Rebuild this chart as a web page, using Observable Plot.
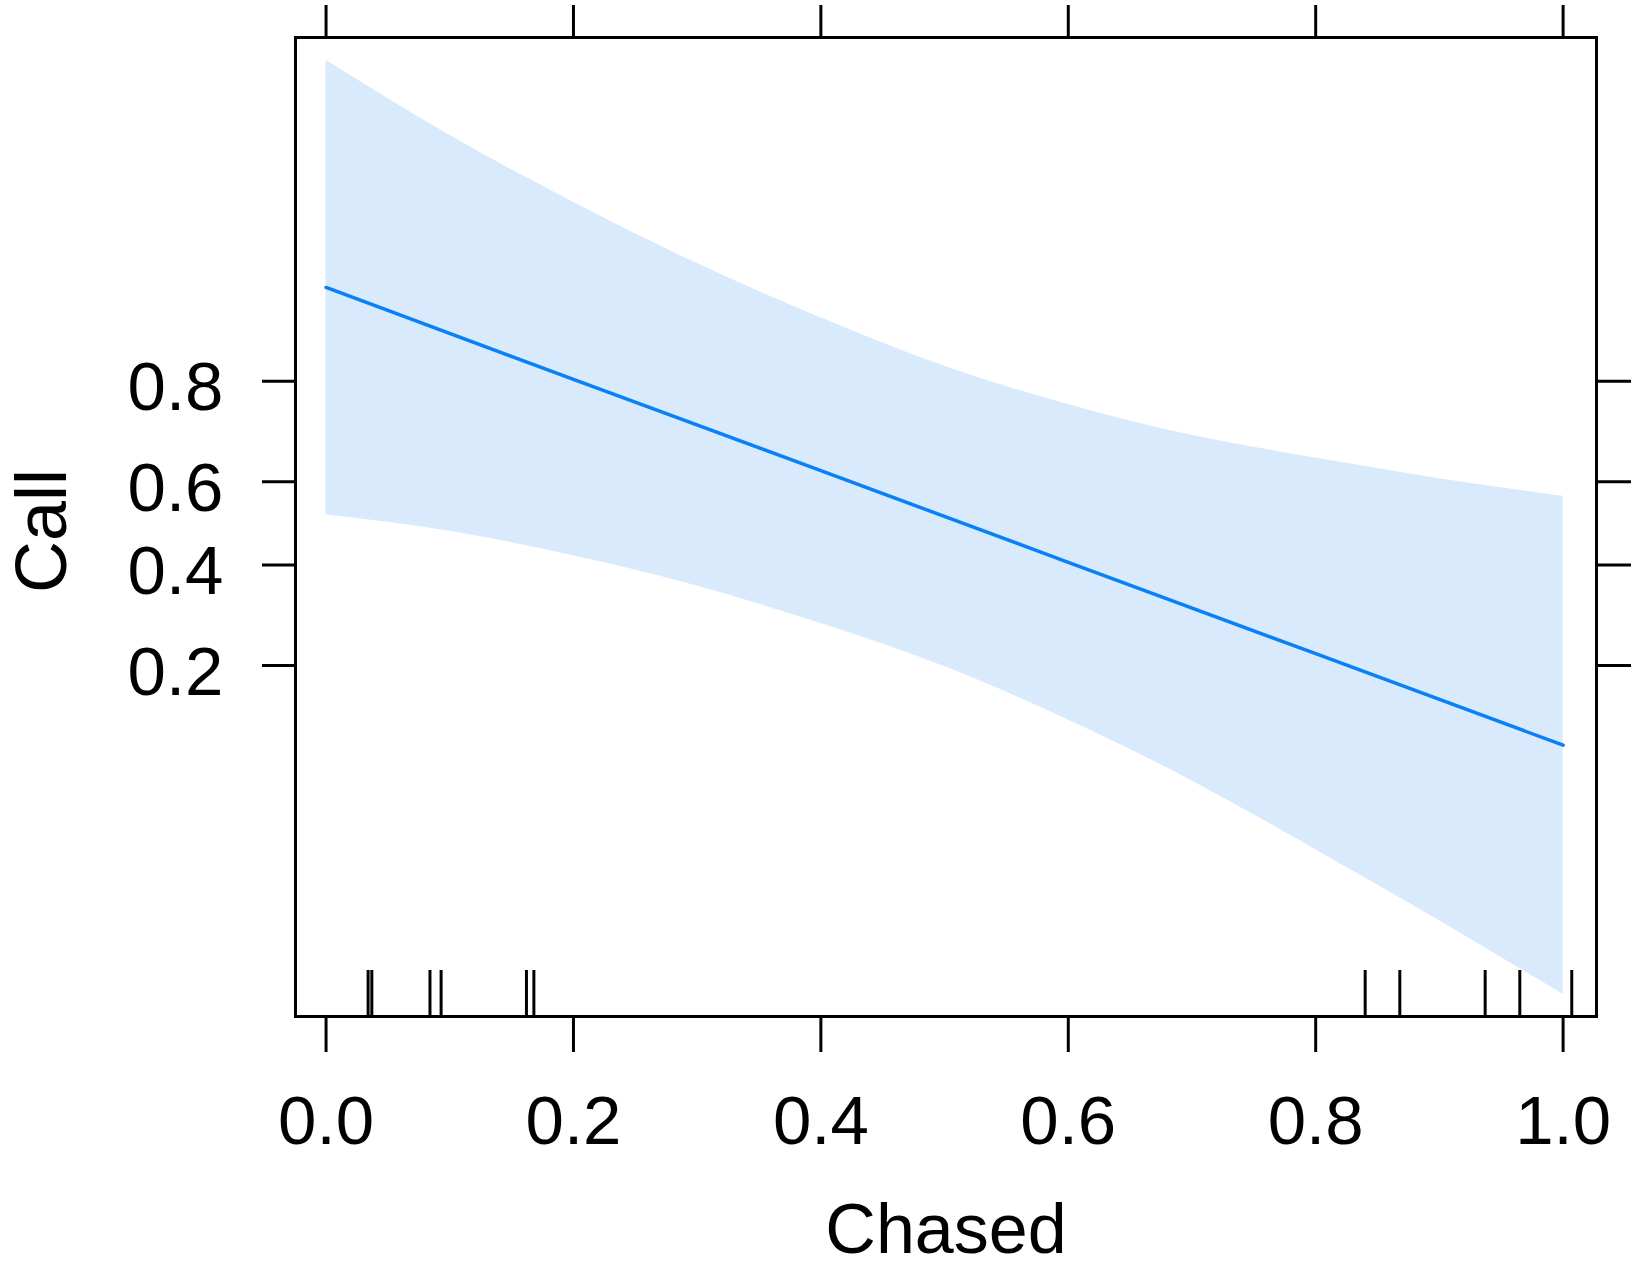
<!DOCTYPE html>
<html>
<head>
<meta charset="utf-8">
<script src="https://cdn.jsdelivr.net/npm/d3@7"></script>
<script src="https://cdn.jsdelivr.net/npm/@observablehq/plot@0.6"></script>
<style>
  html, body { margin: 0; padding: 0; background: #fff; }
  #chart { width: 1633px; height: 1278px; }
</style>
</head>
<body>
<div id="chart"></div>
<script>
// Effect of "Chased" on probability of "Call" (logit-scaled y axis)
const bandX     = [0.0, 0.1, 0.2, 0.3, 0.4, 0.5, 0.6, 0.7, 0.8, 0.9, 1.0];
const bandUpper = [0.9892, 0.9778, 0.9582, 0.9265, 0.8814, 0.8223, 0.7614, 0.7026, 0.6541, 0.6071, 0.5656];
const bandLower = [0.5205, 0.4810, 0.4215, 0.3516, 0.2734, 0.1983, 0.1280, 0.0750, 0.0398, 0.0203, 0.0100];

const fitX = [0.0, 0.2, 0.4, 0.6, 0.8, 1.0];
const fitY = [0.909, 0.803, 0.626, 0.406, 0.219, 0.103];

const rugX = [0.034, 0.037, 0.084, 0.093, 0.162, 0.168, 0.840, 0.868, 0.937, 0.965, 1.007];

const xTicks = [0.0, 0.2, 0.4, 0.6, 0.8, 1.0];
const yTicks = [0.2, 0.4, 0.6, 0.8];

const xLabel = "Chased";
const yLabel = "Call";

const logit = p => Math.log(p / (1 - p));
const invlogit = v => 1 / (1 + Math.exp(-v));

const band = bandX.map((x, i) => ({x, lo: bandLower[i], hi: bandUpper[i]}));
const fit = fitX.map((x, i) => ({x, p: fitY[i]}));

const chart = Plot.plot({
  width: 1633,
  height: 1278,
  marginLeft: 295,
  marginRight: 37,
  marginTop: 37,
  marginBottom: 262,
  style: {background: "#fff", fontFamily: "'Liberation Sans', Arial, sans-serif", color: "#000"},
  x: {domain: [-0.0247, 1.027]},
  y: {domain: [-4.811, 4.740]},
  marks: [
    Plot.areaY(band, {x: "x", y1: d => logit(d.lo), y2: d => logit(d.hi), fill: "#d8eafb", curve: "natural"}),
    Plot.line(fit, {x: "x", y: d => logit(d.p), stroke: "#0a80f5", strokeWidth: 3.5}),
    Plot.tickX(rugX, {x: d => d, insetTop: 933, stroke: "#000", strokeWidth: 3}),
    Plot.frame({stroke: "#000", strokeWidth: 3}),
    Plot.axisX({anchor: "bottom", ticks: xTicks, tickFormat: d => d.toFixed(1), tickSize: 36, tickPadding: 42,
                strokeWidth: 3, fontSize: 69, label: null}),
    Plot.axisX({anchor: "top", ticks: xTicks, tickFormat: () => "", tickSize: 33, strokeWidth: 3, label: null}),
    Plot.axisY({anchor: "left", ticks: yTicks.map(logit), tickFormat: () => "", tickSize: 33, strokeWidth: 3, label: null}),
    Plot.axisY({anchor: "left", ticks: yTicks.map(logit), tickFormat: v => invlogit(v).toFixed(1), tickSize: 0,
                tickPadding: 72, dy: 7, fontSize: 69, label: null}),
    Plot.axisY({anchor: "right", ticks: yTicks.map(logit), tickFormat: () => "", tickSize: 34, strokeWidth: 3, label: null}),
    Plot.text([yLabel], {frameAnchor: "left", textAnchor: "middle", lineAnchor: "middle", rotate: -90,
                         dx: -253, dy: 4, fontSize: 72, fill: "#000"}),
    Plot.text([xLabel], {frameAnchor: "bottom", textAnchor: "middle", lineAnchor: "middle",
                         dy: 214, fontSize: 70, fill: "#000"})
  ]
});
document.getElementById("chart").appendChild(chart);
</script>
</body>
</html>
